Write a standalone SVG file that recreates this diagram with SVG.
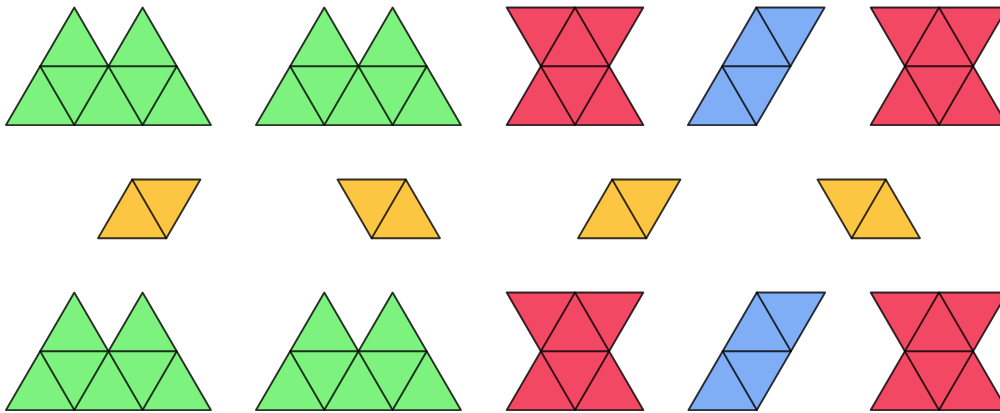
<svg xmlns="http://www.w3.org/2000/svg" width="1000" height="413" viewBox="0 0 1000 413">
<style>
.g{fill:#7ef27e}
.r{fill:#f34863}
.b{fill:#80aef6}
.y{fill:#fcc643}
.s{stroke:#000;stroke-opacity:0.8;stroke-width:1.9;stroke-linejoin:round;stroke-linecap:round}
.l{fill:none}
</style>
<defs>
<g id="green">
<path class="s" d="M0,117.6 L34.15,58.8 L68.3,0 L102.45,58.8 L136.6,0 L170.75,58.8 L204.9,117.6 Z"/>
<path class="s l" d="M34.15,58.8 H170.75 M34.15,58.8 L68.3,117.6 L102.45,58.8 L136.6,117.6 L170.75,58.8"/>
</g>
<g id="red">
<path class="s" d="M0,0 H136.6 L102.45,58.8 L136.6,117.6 H0 L34.15,58.8 Z"/>
<path class="s l" d="M34.15,58.8 H102.45 M34.15,58.8 L68.3,0 L102.45,58.8 L68.3,117.6 Z"/>
</g>
<g id="blue">
<path class="s" d="M0,117.6 H68.3 L136.6,0 H68.3 Z"/>
<path class="s l" d="M34.15,58.8 H102.45 M68.3,0 L102.45,58.8 M34.15,58.8 L68.3,117.6"/>
</g>
<g id="yelA">
<path class="s" d="M0,58.8 H68.3 L102.45,0 H34.15 Z"/>
<path class="s l" d="M34.15,0 L68.3,58.8"/>
</g>
<g id="yelB">
<path class="s" d="M0,0 H68.3 L102.45,58.8 H34.15 Z"/>
<path class="s l" d="M68.3,0 L34.15,58.8"/>
</g>
</defs>
<g id="top-green-1" class="g"><use href="#green" x="6" y="7.5"/></g>
<g id="top-green-2" class="g"><use href="#green" x="256" y="7.5"/></g>
<g id="top-red-1" class="r"><use href="#red" x="506.7" y="7.5"/></g>
<g id="top-blue" class="b"><use href="#blue" x="688" y="7.5"/></g>
<g id="top-red-2" class="r"><use href="#red" x="870.7" y="7.5"/></g>
<g id="yellow-1" class="y"><use href="#yelA" x="98" y="179.5"/></g>
<g id="yellow-2" class="y"><use href="#yelB" x="337.5" y="179.5"/></g>
<g id="yellow-3" class="y"><use href="#yelA" x="578" y="179.5"/></g>
<g id="yellow-4" class="y"><use href="#yelB" x="817.5" y="179.5"/></g>
<g id="bottom-green-1" class="g"><use href="#green" x="6" y="292.5"/></g>
<g id="bottom-green-2" class="g"><use href="#green" x="256" y="292.5"/></g>
<g id="bottom-red-1" class="r"><use href="#red" x="506.7" y="292.5"/></g>
<g id="bottom-blue" class="b"><use href="#blue" x="688.5" y="292.5"/></g>
<g id="bottom-red-2" class="r"><use href="#red" x="870.7" y="292.5"/></g>
<g id="connectors"/>
</svg>
